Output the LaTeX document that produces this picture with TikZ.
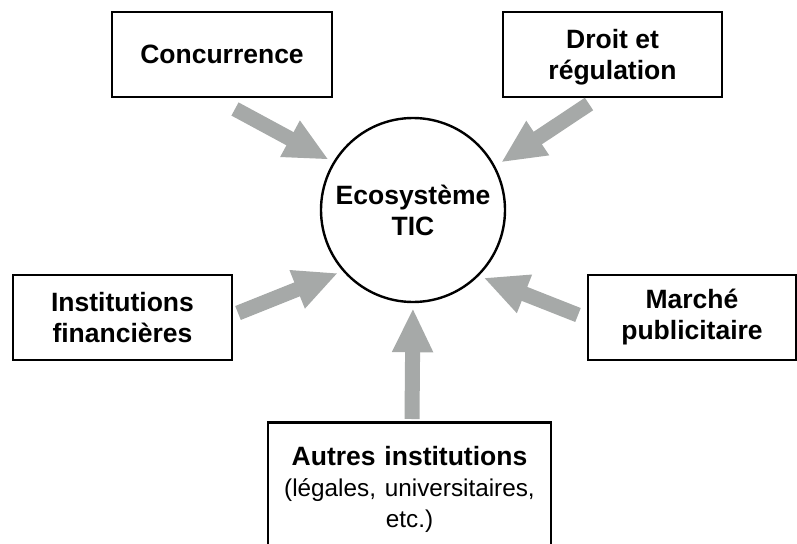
\documentclass[tikz,border=0pt]{standalone}
\usepackage{fontspec}
\setmainfont{Liberation Sans}
\usetikzlibrary{arrows.meta}
\definecolor{flechegris}{RGB}{166,169,168}
\tikzset{
  boite/.style={draw,line width=2.5pt,align=center,inner sep=0pt,minimum height=85pt,
    font=\fontsize{26.5}{31}\selectfont\bfseries},
  fleche/.style={flechegris,line width=15pt,-{Triangle[width=38pt,length=44pt]},shorten >=5pt}
}

\begin{document}
\begin{tikzpicture}[x=1pt,y=-1pt]
  \useasboundingbox (0,0) rectangle (797,543);

  \node[draw,circle,line width=2.4pt,minimum size=184pt,inner sep=0pt,align=center,
    font=\fontsize{26.5}{31}\selectfont\bfseries] (eco) at (413,210){Ecosystème\\TIC};

  \node[boite,minimum width=220pt] (conc) at (222,54.5){Concurrence};
  \node[boite,minimum width=219pt,text depth=0pt] (droit) at (612.5,54.5){Droit et\\régulation};
  \node[boite,minimum width=219pt] (instfin) at (122.5,317.5){Institutions\\financières};
  \node[boite,minimum width=208pt] (marche) at (692,317.5){Marché\\publicitaire};
  \node[boite,minimum width=283pt,minimum height=134pt,text width=275pt,anchor=north]
    (autres) at (409.5,421){Autres institutions\\[4pt]\mdseries\fontsize{24.3}{27}\selectfont
    (légales, universitaires,\\etc.)};

  % queues des fleches
  \coordinate (qconc) at (235,109);
  \coordinate (qdroit) at (589,104);
  \coordinate (qinst) at (238,313);
  \coordinate (qmarche) at (578,315);
  \coordinate (qautres) at (412,419);

  \draw[fleche] (qconc) -- (eco.149);
  \draw[fleche,shorten >=7pt] (qdroit) -- (eco.28);
  \draw[fleche] (qinst) -- (eco.221);
  \draw[fleche] (qmarche) -- (eco.315);
  \draw[fleche] (qautres) -- (eco.270);
\end{tikzpicture}
\end{document}
